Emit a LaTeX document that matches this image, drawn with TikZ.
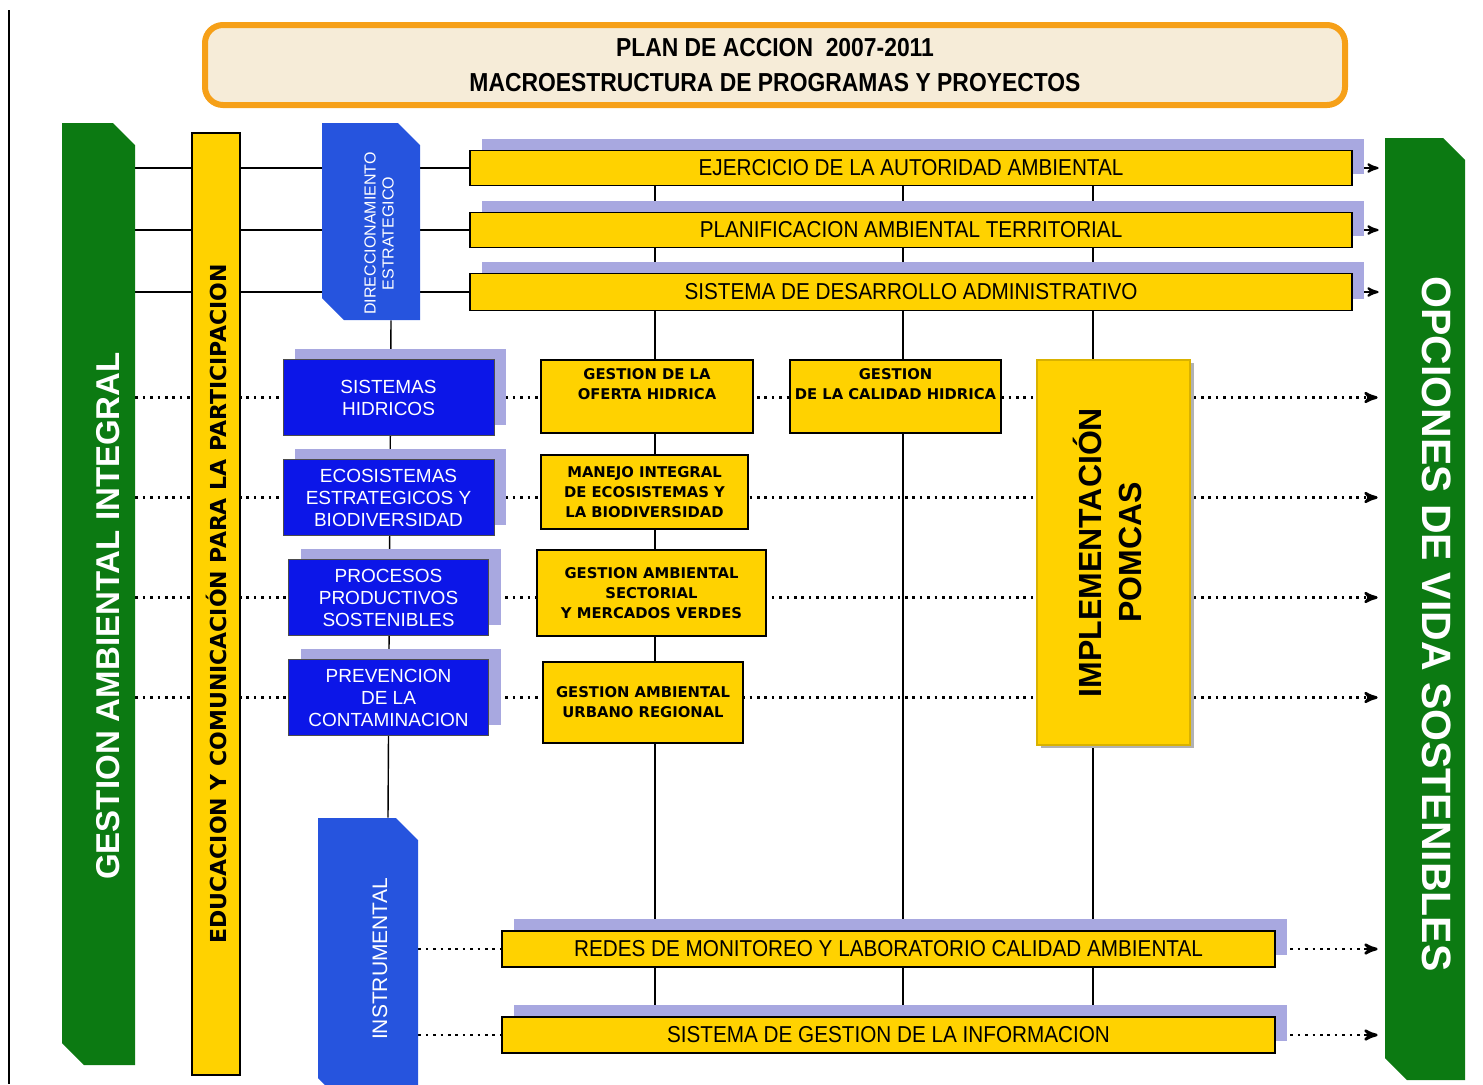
\documentclass[tikz,border=0pt]{standalone}
\usepackage{fontspec}
\setmainfont{Liberation Sans}
\newfontfamily\barfont[FakeStretch=0.9]{Liberation Sans}
\newfontfamily\titlefont[FakeStretch=0.88]{Liberation Sans}
\newfontfamily\heavyfont{DejaVu Sans}
\usetikzlibrary{arrows,shadows,positioning}
\pgfdeclarelayer{background}
\pgfsetlayers{background,main}

\definecolor{bargreen}{RGB}{12,122,18}
\definecolor{baryellow}{RGB}{255,210,0}
\definecolor{boxblue}{RGB}{12,22,232}
\definecolor{prismblue}{RGB}{38,84,222}
\definecolor{shadowlav}{RGB}{168,168,224}
\definecolor{titleorange}{RGB}{246,160,24}
\definecolor{titlefill}{RGB}{246,236,216}

\begin{document}
\begin{tikzpicture}[x=0.5pt,y=-0.5pt,>=stealth',node distance=50pt,
    program/.style={rectangle,draw=black,line width=0.6pt,fill=baryellow,inner sep=0pt,
        font=\barfont\fontsize{11.5}{13}\selectfont,
        drop shadow={shadow xshift=6pt,shadow yshift=6pt,fill=shadowlav,opacity=1}},
    area/.style={rectangle,draw=black!70,line width=0.5pt,fill=boxblue,text=white,align=center,
        inner sep=0pt,minimum height=38pt,font=\fontsize{9.5}{11}\selectfont,
        drop shadow={shadow xshift=6pt,shadow yshift=5.5pt,fill=shadowlav,opacity=1}},
    project/.style={rectangle,draw=black,line width=0.6pt,fill=baryellow,align=center,inner sep=0pt,
        font=\heavyfont\bfseries\fontsize{7.4}{10}\selectfont},
    chamfer/.style={rectangle,inner sep=0pt,
        path picture={\fill[#1] ([yshift=-11pt]path picture bounding box.north east)
            -- ([xshift=-11pt]path picture bounding box.north east)
            -- (path picture bounding box.north west)
            -- ([yshift=11pt]path picture bounding box.south west)
            -- ([xshift=11pt]path picture bounding box.south west)
            -- (path picture bounding box.south east) -- cycle;}},
    link/.style={line width=1pt},
    dots/.style={line width=1.3pt,dash pattern=on 1.3pt off 2.4pt},
    spine/.style={line width=0.7pt}]

  \useasboundingbox (0,0) rectangle (1483,1084);
  \draw[line width=1.2pt] (9,10) -- (9,1084);

  % title
  \node[rectangle,rounded corners=9pt,draw=titleorange,line width=3pt,fill=titlefill,
        minimum width=570pt,minimum height=40pt,align=center,
        font=\titlefont\bfseries\fontsize{13}{17.5}\selectfont] (titulo) at (775,65)
        {PLAN DE ACCION\ \ 2007-2011\\MACROESTRUCTURA DE PROGRAMAS Y PROYECTOS};

  % side pillars
  \node[chamfer=bargreen,minimum width=36.5pt,minimum height=471pt,text=white,
        font=\bfseries\fontsize{16.5}{18}\selectfont] (gestion) at (98.5,594)
        {\hspace*{9.5pt}\rotatebox{90}{GESTION AMBIENTAL INTEGRAL\hspace*{22pt}}};
  \node[chamfer=bargreen,minimum width=40pt,minimum height=471pt,text=white,
        font=\bfseries\fontsize{20.5}{22}\selectfont] (opciones) at (1425,609)
        {\hspace*{12pt}\rotatebox{-90}{\hspace*{15pt}OPCIONES DE VIDA SOSTENIBLES}};
  \node[rectangle,draw=black,line width=0.6pt,fill=baryellow,minimum width=24pt,minimum height=471pt,
        inner sep=0pt,font=\heavyfont\bfseries\fontsize{11}{12}\selectfont] (educacion) at (216,604)
        {\rotatebox{90}{EDUCACION Y COMUNICACIÓN PARA LA PARTICIPACION}};

  % blue prisms
  \node[chamfer=prismblue,minimum width=49pt,minimum height=98.5pt,text=white,
        font=\fontsize{8}{9}\selectfont] (direccion) at (371,221.5)
        {\hspace*{10pt}\rotatebox{90}{\begin{tabular}{@{}c@{}}DIRECCIONAMIENTO\\ESTRATEGICO\end{tabular}\hspace*{12pt}}};
  \node[chamfer=prismblue,minimum width=50pt,minimum height=141pt,text=white,
        font=\fontsize{10.5}{12}\selectfont] (instrumental) at (368,959)
        {\hspace*{12pt}\rotatebox{90}{INSTRUMENTAL}};

  % transversal programs
  \node[program,minimum width=441pt,minimum height=17.5pt] (autoridad) at (911,168)
        {EJERCICIO DE LA AUTORIDAD AMBIENTAL};
  \node[program,minimum width=441pt,minimum height=17.5pt] (planificacion) at (911,230)
        {PLANIFICACION AMBIENTAL TERRITORIAL};
  \node[program,minimum width=441pt,minimum height=18.5pt] (desarrollo) at (911,292)
        {SISTEMA DE DESARROLLO ADMINISTRATIVO};
  \node[program,minimum width=386.5pt,minimum height=18pt] (redes) at (888.5,949)
        {REDES DE MONITOREO Y LABORATORIO CALIDAD AMBIENTAL};
  \node[program,minimum width=386.5pt,minimum height=18pt] (informacion) at (888.5,1035)
        {SISTEMA DE GESTION DE LA INFORMACION};

  % thematic areas
  \node[area,minimum width=105.5pt] (hidricos) at (388.5,397.5) {SISTEMAS\\HIDRICOS};
  \node[area,minimum width=105.5pt] (ecosistemas) [below of=hidricos]
        {ECOSISTEMAS\\ESTRATEGICOS Y\\BIODIVERSIDAD};
  \node[area,minimum width=100pt] (procesos) [below of=ecosistemas]
        {PROCESOS\\PRODUCTIVOS\\SOSTENIBLES};
  \node[area,minimum width=100pt] (prevencion) [below of=procesos]
        {PREVENCION\\DE LA\\CONTAMINACION};

  % projects
  \node[project,minimum width=106pt,minimum height=36.5pt] (oferta) at (647,396.5)
        {GESTION DE LA\\OFERTA HIDRICA\\\strut};
  \node[project,minimum width=105.5pt,minimum height=36.5pt] (calidad) at (895.5,396.5)
        {GESTION\\DE LA CALIDAD HIDRICA\\\strut};
  \node[project,minimum width=103.5pt,minimum height=37pt] (manejo) at (644.5,492)
        {MANEJO INTEGRAL\\DE ECOSISTEMAS Y\\LA BIODIVERSIDAD};
  \node[project,minimum width=114.5pt,minimum height=43pt] (sectorial) at (651.5,593)
        {GESTION AMBIENTAL\\SECTORIAL\\Y MERCADOS VERDES};
  \node[project,minimum width=100pt,minimum height=40.5pt] (urbano) at (643,702.5)
        {GESTION AMBIENTAL\\URBANO REGIONAL};
  \node[project,draw=baryellow!85!black,minimum width=76.5pt,minimum height=192.5pt,
        font=\bfseries\fontsize{16}{20}\selectfont,
        drop shadow={shadow xshift=2pt,shadow yshift=-1.5pt,fill=black!30,opacity=1}] (pomcas) at (1113.5,552.5)
        {\rotatebox{90}{\begin{tabular}{@{}c@{}}IMPLEMENTACIÓN\\POMCAS\end{tabular}}};

  \coordinate (colA) at (655,0);
  \coordinate (colB) at (903,0);
  \coordinate (colC) at (1093,0);

  \begin{pgfonlayer}{background}
    \draw[spine] ([xshift=10pt]direccion.south) -- ([xshift=10pt]instrumental.north);
    \foreach \c in {colA,colB,colC}
      \draw[spine] (autoridad.south -| \c) -- (informacion.north -| \c);
    \foreach \n in {autoridad,planificacion,desarrollo} {
      \draw[link] (gestion.east |- \n) -- (\n.west);
      \draw[link,->,shorten >=3pt] (\n.east) -- (opciones.west |- \n);
    }
    \foreach \n in {hidricos,ecosistemas,procesos,prevencion}
      \draw[dots,->,shorten >=3.5pt] (gestion.east |- \n) -- (opciones.west |- \n);
    \foreach \n in {redes,informacion} {
      \draw[dots] (instrumental.east |- \n) -- (\n.west);
      \draw[dots,->,shorten >=3.5pt] (\n.east) -- (opciones.west |- \n);
    }
  \end{pgfonlayer}
\end{tikzpicture}
\end{document}
